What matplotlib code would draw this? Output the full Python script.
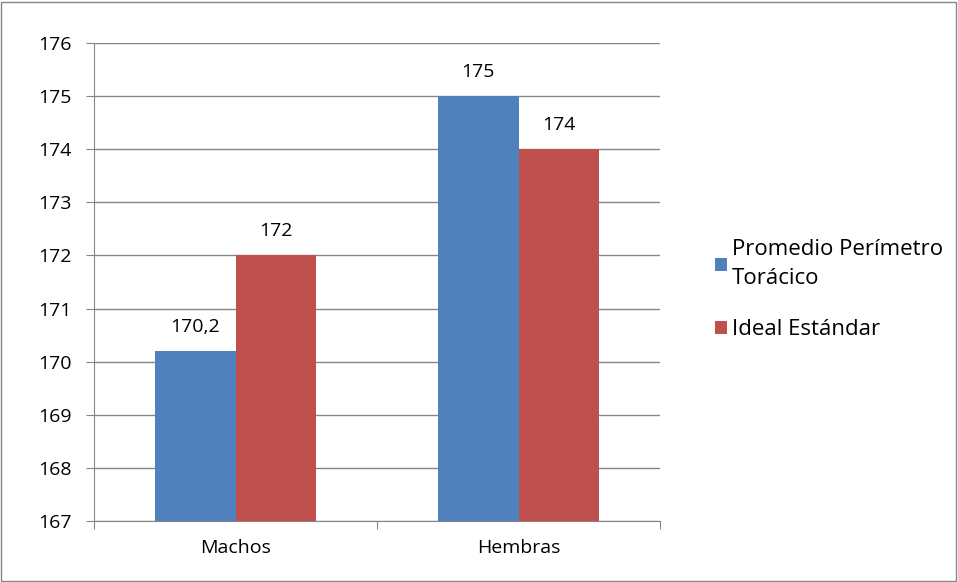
import matplotlib.pyplot as plt
from matplotlib.patches import Rectangle

categories = ["Machos", "Hembras"]
series_names = ["Promedio Perímetro\nTorácico", "Ideal Estándar"]
promedio = [170.2, 175]
ideal = [172, 174]
promedio_labels = ["170,2", "175"]
ideal_labels = ["172", "174"]

plt.rcParams['font.family'] = ['Open Sans', 'DejaVu Sans']
fs = 14

fig = plt.figure(figsize=(9.58, 5.82), dpi=100)
ax = fig.add_axes([94 / 958, 1 - 521 / 582, (660 - 94) / 958, (521 - 43) / 582])

width = 0.284
x = range(len(categories))
blue = "#4F81BD"
red = "#C0504D"
b1 = ax.bar([i - width / 2 for i in x], [v - 167 for v in promedio], width,
            bottom=167, color=blue, label=series_names[0], zorder=3)
b2 = ax.bar([i + width / 2 for i in x], [v - 167 for v in ideal], width,
            bottom=167, color=red, label=series_names[1], zorder=3)

for rect, lab in zip(b1, promedio_labels):
    ax.annotate(lab, (rect.get_x() + rect.get_width() / 2, rect.get_y() + rect.get_height()),
                xytext=(0, 11), textcoords="offset points", ha="center", va="bottom", fontsize=fs)
for rect, lab in zip(b2, ideal_labels):
    ax.annotate(lab, (rect.get_x() + rect.get_width() / 2, rect.get_y() + rect.get_height()),
                xytext=(0, 11), textcoords="offset points", ha="center", va="bottom", fontsize=fs)

ax.set_ylim(167, 176)
ax.set_xlim(-0.5, 1.5)
ax.set_yticks(range(167, 177))
ax.set_yticklabels([str(v) for v in range(167, 177)], fontsize=fs)
ax.yaxis.grid(True, color="#868686", linewidth=1, zorder=0)
ax.set_axisbelow(True)

# category labels centered, tick marks at category boundaries
ax.set_xticks([-0.5, 0.5, 1.5])
ax.set_xticklabels([])
ax.set_xticks(list(x), minor=True)
ax.set_xticklabels(categories, minor=True, fontsize=fs)
ax.tick_params(axis="x", which="minor", length=0, pad=13)
ax.tick_params(axis="x", which="major", length=6, color="#868686", direction="out")
ax.tick_params(axis="y", length=6, color="#868686", direction="out", pad=10)

for s in ["top", "right"]:
    ax.spines[s].set_visible(False)
for s in ["left", "bottom"]:
    ax.spines[s].set_color("#868686")

leg = fig.legend(handles=[b1, b2], loc="upper left", bbox_to_anchor=(704 / 958, 1 - 228 / 582),
                 frameon=False, fontsize=16, handlelength=0.55, handleheight=0.55,
                 handletextpad=0.2, labelspacing=1.35, borderpad=0)
for t in leg.get_texts():
    t.set_linespacing(1.5)

fig.patches.append(Rectangle((0.0015, 0.002), 0.996, 0.995, transform=fig.transFigure,
                             fill=False, edgecolor="#868686", linewidth=1))

fig.savefig("out.png", dpi=100)
